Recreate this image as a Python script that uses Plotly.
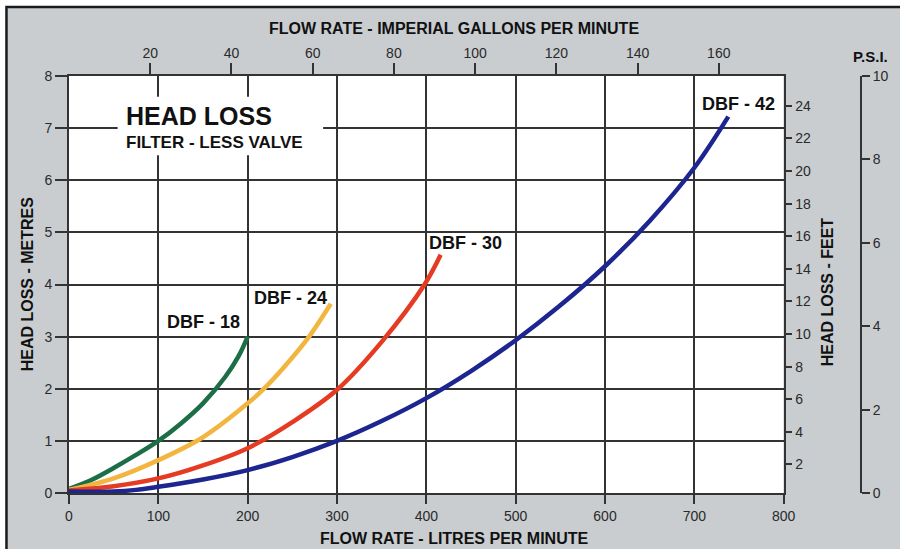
import plotly.graph_objects as go

# ---------------- data ----------------
L18 = [0, 25, 50, 75, 100, 125, 150, 175, 190, 200]
M18 = [0.08, 0.25, 0.48, 0.73, 1.0, 1.33, 1.72, 2.23, 2.63, 3.0]

L24 = [0, 50, 100, 150, 200, 220, 250, 270, 293]
M24 = [0.06, 0.28, 0.63, 1.07, 1.72, 2.03, 2.6, 3.03, 3.63]

L30 = [0, 50, 100, 150, 200, 250, 300, 350, 398, 416]
M30 = [0.05, 0.13, 0.28, 0.53, 0.86, 1.36, 1.98, 2.9, 4.0, 4.57]

L42 = [0, 50, 75, 100, 150, 200, 250, 300, 350, 400, 450, 500, 550, 600, 650, 700, 738]
M42 = [0.03, 0.03, 0.06, 0.12, 0.26, 0.44, 0.69, 1.0, 1.38, 1.82, 2.34, 2.93, 3.6, 4.35, 5.22, 6.24, 7.22]

series_names = ["DBF - 18", "DBF - 24", "DBF - 30", "DBF - 42"]
series_colors = ["#1b6e45", "#f2b540", "#e53b22", "#1c2590"]

x_ticks_lpm = [0, 100, 200, 300, 400, 500, 600, 700, 800]
x_ticks_gpm = [20, 40, 60, 80, 100, 120, 140, 160]
y_ticks_m = [0, 1, 2, 3, 4, 5, 6, 7, 8]
y_ticks_ft = [2, 4, 6, 8, 10, 12, 14, 16, 18, 20, 22, 24]
y_ticks_psi = [0, 2, 4, 6, 8, 10]

LITRES_PER_IMP_GAL = 4.54609
FT_PER_M = 3.28084
PSI_PER_M = 1.4223

FONT = "Liberation Sans"
GRID = "#333333"
TXT = "#2a2a2a"

# ---------------- layout geometry (pixels) ----------------
W, H = 900, 549
ML, MR, MT, MB = 69, 20, 76, 56
PW = W - ML - MR
PH = H - MT - MB
XDOM_END = (789 - ML) / PW


def px(x):
    return (x - ML) / PW


def py(y):
    return (H - MB - y) / PH


fig = go.Figure()

for xs, ys, name, col in zip([L18, L24, L30, L42], [M18, M24, M30, M42], series_names, series_colors):
    fig.add_trace(go.Scatter(x=xs, y=ys, mode="lines", name=name,
                             line=dict(color=col, width=4.5, shape="spline", smoothing=1.0),
                             showlegend=False, hoverinfo="x+y"))

# invisible companions so the secondary scales are bound to data
fig.add_trace(go.Scatter(x=[v / LITRES_PER_IMP_GAL for v in L42], y=[v * FT_PER_M for v in M42],
                         xaxis="x2", yaxis="y2", mode="lines", opacity=0, showlegend=False, hoverinfo="skip"))
fig.add_trace(go.Scatter(x=[v / LITRES_PER_IMP_GAL for v in L42], y=[v * PSI_PER_M for v in M42],
                         xaxis="x2", yaxis="y3", mode="lines", opacity=0, showlegend=False, hoverinfo="skip"))

tickfont = dict(family=FONT, size=14, color=TXT)

fig.update_layout(
    width=W, height=H,
    margin=dict(l=ML, r=MR, t=MT, b=MB),
    paper_bgcolor="white",
    plot_bgcolor="rgba(0,0,0,0)",
    font=dict(family=FONT, color=TXT),
    xaxis=dict(domain=[0, XDOM_END], range=[0, 800], tickvals=x_ticks_lpm,
               showgrid=True, gridcolor=GRID, gridwidth=1.6,
               showline=True, linecolor=GRID, linewidth=1.6,
               ticks="outside", ticklen=9, tickcolor=GRID, tickwidth=1.6,
               tickfont=tickfont, zeroline=False, fixedrange=True),
    xaxis2=dict(overlaying="x", side="top", anchor="y",
                range=[0, 800 / LITRES_PER_IMP_GAL], tickvals=x_ticks_gpm,
                showgrid=False, showline=True, linecolor=GRID, linewidth=1.6,
                ticks="outside", ticklen=11, tickcolor=GRID, tickwidth=1.6,
                tickfont=tickfont, zeroline=False),
    yaxis=dict(range=[0, 8], tickvals=y_ticks_m,
               showgrid=True, gridcolor=GRID, gridwidth=1.6,
               showline=True, linecolor=GRID, linewidth=1.6,
               ticks="outside", ticklen=12, tickcolor=GRID, tickwidth=1.6,
               tickfont=tickfont, zeroline=False),
    yaxis2=dict(overlaying="y", side="right", anchor="x",
                range=[0.245, 25.83], tickvals=y_ticks_ft,
                showgrid=False, showline=True, linecolor=GRID, linewidth=1.6,
                ticks="outside", ticklen=7, tickcolor=GRID, tickwidth=1.6,
                tickfont=tickfont, zeroline=False),
    yaxis3=dict(overlaying="y", side="right", anchor="free", position=px(867),
                range=[0, 10], tickvals=y_ticks_psi,
                showgrid=False, showline=True, linecolor=GRID, linewidth=1.6,
                ticks="outside", ticklen=8, tickcolor=GRID, tickwidth=1.6,
                tickfont=tickfont, zeroline=False),
)

# grey card with dark frame
fig.add_shape(type="rect", xref="paper", yref="paper",
              x0=px(6), x1=px(915), y0=py(570), y1=py(7),
              fillcolor="#c9cdd0", line=dict(color="#1a1a1a", width=2.5), layer="below")

# white chart field (below gridlines)
fig.add_shape(type="rect", xref="x", yref="y", x0=0, x1=800, y0=0, y1=8,
              fillcolor="white", line=dict(width=0), layer="below")

# white box behind the heading
fig.add_shape(type="rect", xref="x", yref="y",
              x0=(118 - ML) / 0.9, x1=(325 - ML) / 0.9, y0=6.48, y1=7.6,
              fillcolor="white", line=dict(width=0), layer="above")

bold = dict(family=FONT, color="#111111")

annots = [
    dict(text="<b>HEAD LOSS</b>", x=px(124), y=py(116), xanchor="left", yanchor="middle",
         font=dict(size=25, **bold)),
    dict(text="<b>FILTER - LESS VALVE</b>", x=px(124), y=py(142), xanchor="left", yanchor="middle",
         font=dict(size=17, **bold)),
    dict(text="<b>FLOW RATE - IMPERIAL GALLONS PER MINUTE</b>", x=px(457), y=py(28),
         xanchor="center", yanchor="middle", font=dict(size=16, **bold)),
    dict(text="<b>FLOW RATE - LITRES PER MINUTE</b>", x=px(457), y=py(538),
         xanchor="center", yanchor="middle", font=dict(size=16, **bold)),
    dict(text="<b>HEAD LOSS - METRES</b>", x=px(27), y=py(284), textangle=-90,
         xanchor="center", yanchor="middle", font=dict(size=16, **bold)),
    dict(text="<b>HEAD LOSS - FEET</b>", x=px(833), y=py(292), textangle=-90,
         xanchor="center", yanchor="middle", font=dict(size=16, **bold)),
    dict(text="<b>P.S.I.</b>", x=px(876), y=py(56),
         xanchor="center", yanchor="middle", font=dict(size=15, **bold)),
]
for a in annots:
    fig.add_annotation(xref="paper", yref="paper", showarrow=False, **a)

label_pos = [(150, 3.28), (248, 3.74), (444, 4.8), (749, 7.46)]
for name, (lx, ly) in zip(series_names, label_pos):
    fig.add_annotation(xref="x", yref="y", x=lx, y=ly, text=f"<b>{name}</b>", showarrow=False,
                       xanchor="center", yanchor="middle", font=dict(size=18, **bold))

fig.write_html("out.html", config={"displayModeBar": False},
               post_script="document.body.style.margin='0';document.body.style.overflow='hidden';")
